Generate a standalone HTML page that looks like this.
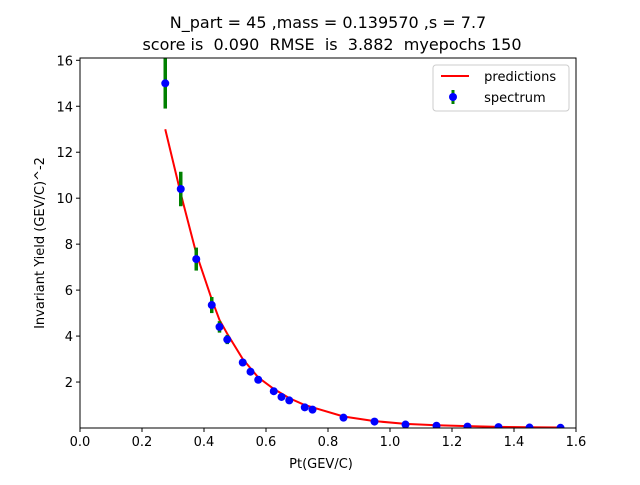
<!DOCTYPE html>
<html><head><meta charset="utf-8"><style>body{margin:0;background:#fff}svg text{font-family:"DejaVu Sans","Liberation Sans",sans-serif;white-space:pre}</style></head>
<body>
<svg id="chart" width="640" height="480">
<text x="328" y="28" font-size="16" text-anchor="middle">N_part = 45 ,mass = 0.139570 ,s = 7.7</text>
<text x="332" y="50" font-size="16" text-anchor="middle">score is  0.090  RMSE  is  3.882  myepochs 150</text>
<g id="plot"></g>
<text x="321" y="468" font-size="13" text-anchor="middle">Pt(GEV/C)</text>
<text transform="translate(44,243) rotate(-90)" font-size="13" text-anchor="middle">Invariant Yield (GEV/C)^-2</text>
<g>
<rect x="433" y="65" width="136" height="46" fill="#fff" stroke="#ccc" rx="3"/>
<line x1="441" y1="76" x2="469" y2="76" stroke="red" stroke-width="2"/>
<text x="480" y="81" font-size="13"> predictions</text>
<line x1="453" y1="90" x2="453" y2="104" stroke="green" stroke-width="3"/>
<circle cx="453" cy="97" r="4" fill="blue"/>
<text x="480" y="102" font-size="13"> spectrum</text>
</g>
</svg>
<script>
const ptValues=[0.275,0.325,0.375,0.425,0.45,0.475,0.525,0.55,0.575,0.625,0.65,0.675,0.725,0.75,0.85,0.95,1.05,1.15,1.25,1.35,1.45,1.55];
const yieldValues=[15.0,10.4,7.35,5.35,4.4,3.85,2.85,2.45,2.1,1.6,1.35,1.2,0.9,0.8,0.45,0.28,0.15,0.1,0.06,0.04,0.02,0.01];
const errValues=[1.1,0.75,0.5,0.35,0.25,0.2,0.1,0.08,0.06,0.05,0.04,0.03,0.02,0.02,0.01,0.01,0.01,0,0,0,0,0];
const predValues=[13.0,10.2,7.6,5.6,4.7,4.1,3.0,2.6,2.2,1.7,1.5,1.3,1.0,0.9,0.5,0.3,0.18,0.12,0.08,0.05,0.03,0.02];
const xTicks=[0,0.2,0.4,0.6,0.8,1.0,1.2,1.4,1.6];
const yTicks=[2,4,6,8,10,12,14,16];
const L=80,R=576,T=58,B=428,XMAX=1.6,YMAX=16.1;
const sx=v=>L+v/XMAX*(R-L), sy=v=>B-v/YMAX*(B-T);
const NS="http://www.w3.org/2000/svg", g=document.getElementById('plot');
function mk(t,a){const e=document.createElementNS(NS,t);for(const k in a)e.setAttribute(k,a[k]);g.appendChild(e);return e;}
const clip=document.createElementNS(NS,'clipPath');clip.id='c';const cr=document.createElementNS(NS,'rect');
cr.setAttribute('x',L);cr.setAttribute('y',T);cr.setAttribute('width',R-L);cr.setAttribute('height',B-T);clip.appendChild(cr);g.appendChild(clip);
xTicks.forEach(t=>{const x=sx(t);
 const l=mk('line',{x1:x,y1:B,x2:x,y2:B+4,stroke:'#000'});
 const tx=mk('text',{x:x,y:B+18,'font-size':13,'text-anchor':'middle'});tx.textContent=t.toFixed(1);
 
 });
yTicks.forEach(t=>{const y=sy(t);
 const l=mk('line',{x1:L-4,y1:y,x2:L,y2:y,stroke:'#000'});
 const tx=mk('text',{x:L-7,y:y+5,'font-size':13,'text-anchor':'end'});tx.textContent=t;
 
 });
const pc=mk('g',{'clip-path':'url(#c)'});
const line=document.createElementNS(NS,'polyline');
line.setAttribute('points',ptValues.map((p,i)=>sx(p)+','+sy(predValues[i])).join(' '));
line.setAttribute('fill','none');line.setAttribute('stroke','red');line.setAttribute('stroke-width','2');


pc.appendChild(line);
ptValues.forEach((p,i)=>{
 const e=document.createElementNS(NS,'line');
 e.setAttribute('x1',sx(p));e.setAttribute('x2',sx(p));e.setAttribute('y1',sy(yieldValues[i]-errValues[i]));e.setAttribute('y2',sy(yieldValues[i]+errValues[i]));
 e.setAttribute('stroke','green');e.setAttribute('stroke-width','3.5');
 
 
 pc.appendChild(e);
 const c=document.createElementNS(NS,'circle');
 c.setAttribute('cx',sx(p));c.setAttribute('cy',sy(yieldValues[i]));c.setAttribute('r','4');c.setAttribute('fill','blue');
 
 
 pc.appendChild(c);
});
const fr=mk('rect',{x:L,y:T,width:R-L,height:B-T,fill:'none',stroke:'#000'});


</script>
</body></html>
